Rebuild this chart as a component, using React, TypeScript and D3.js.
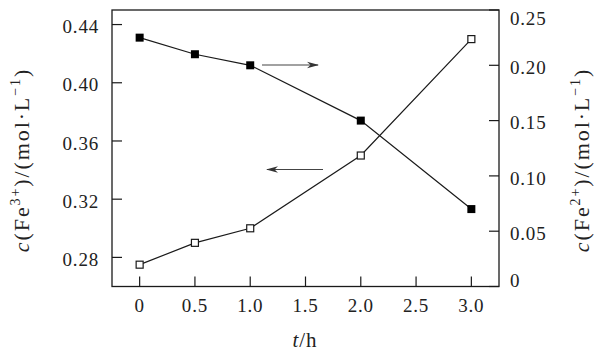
import React, { useEffect, useRef } from "react";
import * as d3 from "d3";

const times = [0, 0.5, 1.0, 2.0, 3.0];
const fe3 = [0.275, 0.29, 0.3, 0.35, 0.43];
const fe2 = [0.225, 0.21, 0.2, 0.15, 0.07];
const xTicks = [0, 0.5, 1.0, 1.5, 2.0, 2.5, 3.0];
const leftTicks = [0.28, 0.32, 0.36, 0.4, 0.44];
const rightTicks = [0, 0.05, 0.1, 0.15, 0.2, 0.25];

const W = 601, H = 355;
const M = { left: 112, right: 499, top: 10, bottom: 286.5 };
const FONT = '"Liberation Serif", monospace';

export default function App() {
  const ref = useRef<SVGSVGElement>(null);
  useEffect(() => {
    const svg = d3.select(ref.current);
    svg.selectAll("*").remove();
    const x = d3.scaleLinear().domain([-0.25, 3.25]).range([M.left, M.right]);
    const yL = d3.scaleLinear().domain([0.26, 0.45]).range([M.bottom, M.top]);
    const yR = d3.scaleLinear().domain([0, 0.25]).range([M.bottom, M.top]);
    const ink = "#1a1a1a";

    svg.append("defs").append("marker")
      .attr("id", "ah").attr("viewBox", "0 0 12 8").attr("refX", 11).attr("refY", 4)
      .attr("markerWidth", 12).attr("markerHeight", 8).attr("markerUnits", "userSpaceOnUse")
      .attr("orient", "auto")
      .append("path").attr("d", "M0,0.8 L12,4 L0,7.2 L3.5,4 Z").attr("fill", "#333");

    svg.append("rect").attr("x", M.left).attr("y", M.top)
      .attr("width", M.right - M.left).attr("height", M.bottom - M.top)
      .attr("fill", "none").attr("stroke", ink).attr("stroke-width", 1.3);

    const g = svg.append("g").attr("fill", "#222");
    const txt = () => {
      const t = g.append("text");
      (t.node() as SVGTextElement).style.fontFamily = FONT;
      return t;
    };

    leftTicks.forEach((v) => {
      g.append("line").attr("x1", M.left).attr("x2", M.left + 10)
        .attr("y1", yL(v)).attr("y2", yL(v)).attr("stroke", ink).attr("stroke-width", 1.2);
      txt().attr("x", M.left - 13).attr("y", yL(v) + 2).attr("dy", "0.35em")
        .attr("text-anchor", "end").attr("font-size", 19).attr("letter-spacing", 0.8)
        .text(d3.format(".2f")(v));
    });
    rightTicks.forEach((v) => {
      g.append("line").attr("x1", M.right).attr("x2", M.right - 10)
        .attr("y1", yR(v)).attr("y2", yR(v)).attr("stroke", ink).attr("stroke-width", 1.2);
      const off = v === 0 ? -6 : v === 0.25 ? 8 : 2;
      txt().attr("x", M.right + 11).attr("y", yR(v) + off).attr("dy", "0.35em")
        .attr("text-anchor", "start").attr("font-size", 19).attr("letter-spacing", 0.8)
        .text(v === 0 ? "0" : d3.format(".2f")(v));
    });
    xTicks.forEach((v) => {
      g.append("line").attr("x1", x(v)).attr("x2", x(v))
        .attr("y1", M.bottom).attr("y2", M.bottom - 10).attr("stroke", ink).attr("stroke-width", 1.2);
      txt().attr("x", x(v)).attr("y", 312)
        .attr("text-anchor", "middle").attr("font-size", 19).attr("letter-spacing", 0.8)
        .text(v === 0 ? "0" : d3.format(".1f")(v));
    });

    const xl = txt().attr("x", 305).attr("y", 346.5).attr("text-anchor", "middle")
      .attr("font-size", 21).attr("letter-spacing", 1);
    xl.append("tspan").attr("font-style", "italic").text("t");
    xl.append("tspan").text("/h");

    const yLabel = (cx: number, sup: string) => {
      const t = txt().attr("transform", `translate(${cx},160) rotate(-90)`)
        .attr("text-anchor", "middle").attr("font-size", 22).attr("letter-spacing", 1.9);
      t.append("tspan").attr("font-style", "italic").text("c");
      t.append("tspan").text("(Fe");
      t.append("tspan").attr("font-size", 14).attr("dy", -9).text(sup);
      t.append("tspan").attr("dy", 9).text(")/(mol·L");
      t.append("tspan").attr("font-size", 14).attr("dy", -9).text("−1");
      t.append("tspan").attr("dy", 9).text(")");
    };
    yLabel(29, "3+");
    yLabel(589, "2+");

    const line = (ys: number[], yS: d3.ScaleLinear<number, number>) =>
      d3.line<number>().x((_, i) => x(times[i])).y((d) => yS(d))(ys) as string;

    svg.append("path").attr("d", line(fe3, yL)).attr("fill", "none").attr("stroke", ink).attr("stroke-width", 1.2);
    svg.append("path").attr("d", line(fe2, yR)).attr("fill", "none").attr("stroke", ink).attr("stroke-width", 1.2);

    fe3.forEach((v, i) => {
      svg.append("rect").attr("x", x(times[i]) - 3.5).attr("y", yL(v) - 3.5)
        .attr("width", 7).attr("height", 7).attr("fill", "#fff").attr("stroke", ink).attr("stroke-width", 1.2);
    });
    fe2.forEach((v, i) => {
      svg.append("rect").attr("x", x(times[i]) - 4).attr("y", yR(v) - 4)
        .attr("width", 8).attr("height", 8).attr("fill", "#000");
    });

    svg.append("line").attr("x1", 262).attr("x2", 318).attr("y1", 65).attr("y2", 65)
      .attr("stroke", "#444").attr("stroke-width", 1.2).attr("marker-end", "url(#ah)");
    svg.append("line").attr("x1", 323).attr("x2", 267).attr("y1", 169.5).attr("y2", 169.5)
      .attr("stroke", "#444").attr("stroke-width", 1.2).attr("marker-end", "url(#ah)");
  }, []);
  return (
    <svg ref={ref} width={W} height={H}
      style={{ position: "absolute", left: 0, top: 0, background: "#fff", fontFamily: FONT }} />
  );
}
